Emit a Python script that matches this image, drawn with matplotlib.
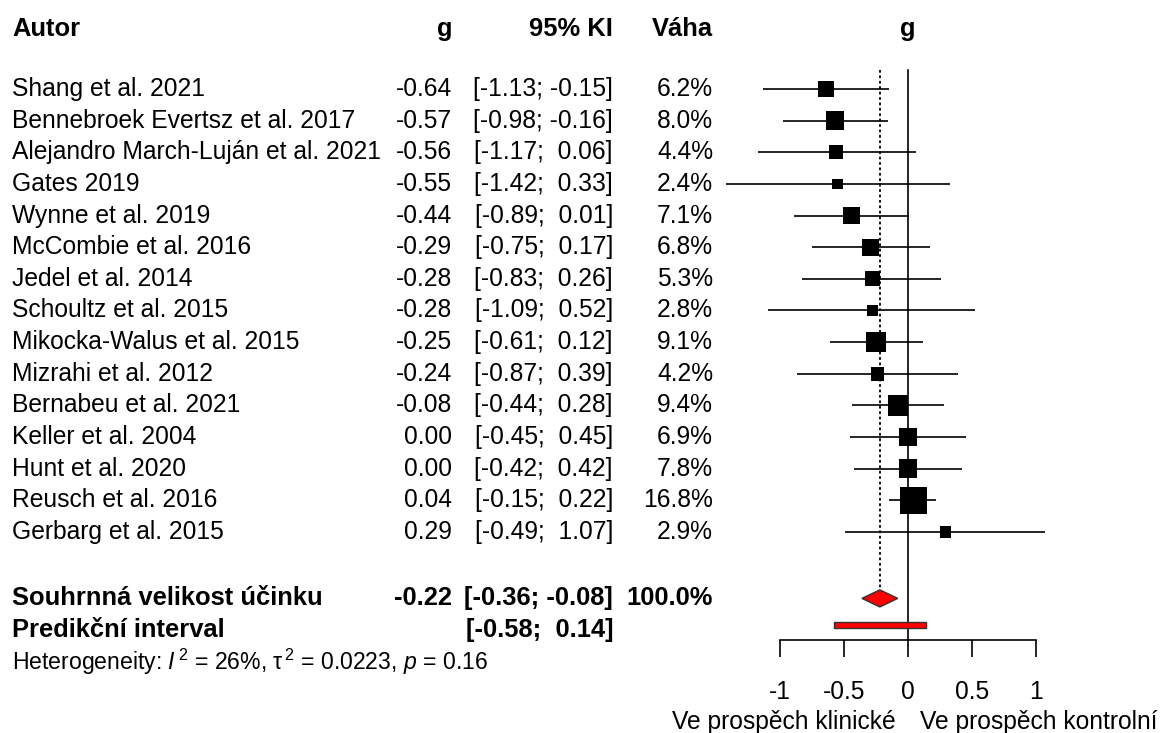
import matplotlib
matplotlib.use('Agg')
import matplotlib.pyplot as plt
import matplotlib.transforms as mtransforms
import numpy as np

plt.rcParams['font.family'] = ['Liberation Sans', 'DejaVu Sans']
plt.rcParams['axes.unicode_minus'] = False
plt.rcParams['mathtext.fontset'] = 'custom'
plt.rcParams['mathtext.rm'] = 'Liberation Sans'
plt.rcParams['mathtext.it'] = 'Liberation Sans:italic'

# studie, efekt (Hedges g), 95% KI a vaha
autori = ['Shang et al. 2021', 'Bennebroek Evertsz et al. 2017',
          'Alejandro March-Luján et al. 2021', 'Gates 2019', 'Wynne et al. 2019',
          'McCombie et al. 2016', 'Jedel et al. 2014', 'Schoultz et al. 2015',
          'Mikocka-Walus et al. 2015', 'Mizrahi et al. 2012', 'Bernabeu et al. 2021',
          'Keller et al. 2004', 'Hunt et al. 2020', 'Reusch et al. 2016',
          'Gerbarg et al. 2015']
g = [-0.64, -0.57, -0.56, -0.55, -0.44, -0.29, -0.28, -0.28, -0.25, -0.24,
     -0.08, 0.00, 0.00, 0.04, 0.29]
ci_low = [-1.13, -0.98, -1.17, -1.42, -0.89, -0.75, -0.83, -1.09, -0.61, -0.87,
          -0.44, -0.45, -0.42, -0.15, -0.49]
ci_high = [-0.15, -0.16, 0.06, 0.33, 0.01, 0.17, 0.26, 0.52, 0.12, 0.39,
           0.28, 0.45, 0.42, 0.22, 1.07]
vaha = [6.2, 8.0, 4.4, 2.4, 7.1, 6.8, 5.3, 2.8, 9.1, 4.2, 9.4, 6.9, 7.8, 16.8, 2.9]

souhrn = -0.22
souhrn_ci = (-0.36, -0.08)
predikce = (-0.58, 0.14)
heterogenita = r'Heterogeneity: $\mathit{I}^{\,2}$ = 26%, $\mathrm{τ}^{\,2}$ = 0.0223, $\mathit{p}$ = 0.16'

xticks = [-1, -0.5, 0, 0.5, 1]
xticklabels = ['-1', '-0.5', '0', '0.5', '1']

W, H = 1163, 733
fig = plt.figure(figsize=(W / 100, H / 100), dpi=100)

# forest panel: 0 at x=908 px, 128 px per unit; rows 31.64 px apart, first at y=89
px_unit = 128.0
row = 31.64
ax_left = 700
ax = fig.add_axes([ax_left / W, 0, 1 - ax_left / W, 1])
ax.set_xlim((ax_left - 908) / px_unit, (W - 908) / px_unit)
ax.set_ylim((H - 89) / row, -89 / row)
for s in ['top', 'left', 'right']:
    ax.spines[s].set_visible(False)
ax.set_yticks([])

n = len(autori)
y = np.arange(n)
y_souhrn = 16.1
y_pred = 17.1
y_het = 18.1
y_head = -1.9
y_osa = 17.41

fs = 17.7
fsb = 18.4

# x axis
ax.spines['bottom'].set_position(('data', y_osa))
ax.spines['bottom'].set_bounds(-1, 1)
ax.spines['bottom'].set_linewidth(1.2)
ax.set_xticks(xticks)
ax.set_xticklabels(xticklabels)
ax.tick_params(axis='x', direction='out', length=12, width=1.2, pad=17,
               labelsize=fs)

# reference lines
ax.plot([0, 0], [-0.6, y_osa], color='black', lw=1.2)
ax.plot([souhrn, souhrn], [-0.6, y_souhrn - 0.3], color='black', lw=1.3,
        linestyle=(0, (1.5, 1.5)))

# confidence intervals and squares (side ~ sqrt(weight))
for i in range(n):
    ax.plot([ci_low[i], ci_high[i]], [y[i], y[i]], color='black', lw=1.2,
            solid_capstyle='butt')
side_px = 6.6 * np.sqrt(np.array(vaha))
ax.scatter(g, y, marker='s', s=(side_px * 0.72) ** 2, color='black',
           linewidths=0, zorder=3)

# summary diamond
dh = 0.27
ax.fill([souhrn_ci[0], souhrn, souhrn_ci[1], souhrn],
        [y_souhrn, y_souhrn - dh, y_souhrn, y_souhrn + dh],
        facecolor='red', edgecolor='#333333', lw=1.0, zorder=3)

# prediction interval
ph = 0.1
yc = y_pred - 0.16
ax.fill([predikce[0], predikce[1], predikce[1], predikce[0]],
        [yc - ph, yc - ph, yc + ph, yc + ph],
        facecolor='red', edgecolor='#333333', lw=1.0, zorder=3)

# side labels under the axis
ax.text(-0.10, 20.0, 'Ve prospěch klinické', ha='right', va='center', fontsize=fs)
ax.text(0.095, 20.0, 'Ve prospěch kontrolní', ha='left', va='center', fontsize=fs)
ax.text(0, y_head, 'g', ha='center', va='center', fontsize=fsb, fontweight='bold')

# text columns
tr = mtransforms.blended_transform_factory(fig.transFigure, ax.transData)
x_aut = 12 / W
x_g = 452 / W
x_ci = 613 / W
x_w = 713 / W


def ci_txt(lo, hi):
    return '[{:.2f}; {}]'.format(lo, ('{:.2f}'.format(hi) if hi < 0 else ' {:.2f}'.format(hi)))


ax.text(x_aut, y_head, 'Autor', transform=tr, ha='left', va='center', fontsize=fsb, fontweight='bold')
ax.text(x_g, y_head, 'g', transform=tr, ha='right', va='center', fontsize=fsb, fontweight='bold')
ax.text(x_ci, y_head, '95% KI', transform=tr, ha='right', va='center', fontsize=fsb, fontweight='bold')
ax.text(x_w, y_head, 'Váha', transform=tr, ha='right', va='center', fontsize=fsb, fontweight='bold')

for i in range(n):
    ax.text(x_aut, y[i], autori[i], transform=tr, ha='left', va='center', fontsize=fs)
    ax.text(x_g, y[i], '{:.2f}'.format(g[i]), transform=tr, ha='right', va='center', fontsize=fs)
    ax.text(x_ci, y[i], ci_txt(ci_low[i], ci_high[i]), transform=tr, ha='right', va='center', fontsize=fs)
    ax.text(x_w, y[i], '{:.1f}%'.format(vaha[i]), transform=tr, ha='right', va='center', fontsize=fs)

ax.text(x_aut, y_souhrn, 'Souhrnná velikost účinku', transform=tr, ha='left', va='center',
        fontsize=fsb, fontweight='bold')
ax.text(x_g, y_souhrn, '{:.2f}'.format(souhrn), transform=tr, ha='right', va='center',
        fontsize=fsb, fontweight='bold')
ax.text(x_ci, y_souhrn, ci_txt(*souhrn_ci), transform=tr, ha='right', va='center',
        fontsize=fsb, fontweight='bold')
ax.text(x_w, y_souhrn, '100.0%', transform=tr, ha='right', va='center', fontsize=fsb, fontweight='bold')

ax.text(x_aut, y_pred, 'Predikční interval', transform=tr, ha='left', va='center',
        fontsize=fsb, fontweight='bold')
ax.text(x_ci, y_pred, ci_txt(*predikce), transform=tr, ha='right', va='center',
        fontsize=fsb, fontweight='bold')

ax.text(x_aut, y_het, heterogenita, transform=tr, ha='left', va='center', fontsize=16.6)

fig.savefig('out.png', dpi=100, facecolor='white')
